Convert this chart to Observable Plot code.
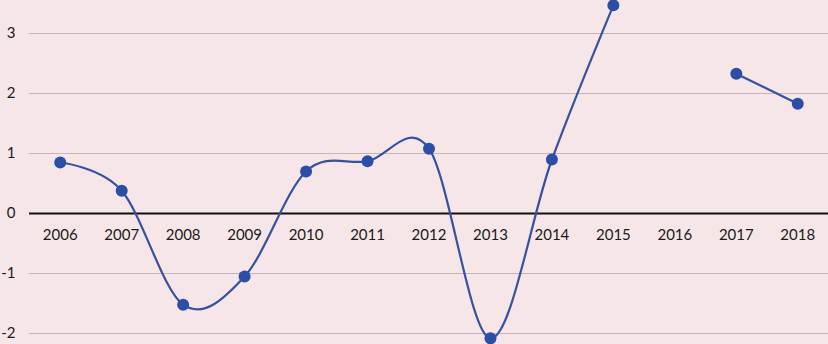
<!DOCTYPE html>
<html>
<head>
<meta charset="utf-8">
<script src="https://cdn.jsdelivr.net/npm/d3@7"></script>
<script src="https://cdn.jsdelivr.net/npm/@observablehq/plot@0.6"></script>
<style>
  html, body { margin: 0; padding: 0; background: #f6e6e7; }
  #chart svg { display: block; }
</style>
</head>
<body>
<div id="chart"></div>
<script>
const years = ["2006","2007","2008","2009","2010","2011","2012","2013","2014","2015","2016","2017","2018"];
const values = [0.85, 0.38, -1.52, -1.05, 0.70, 0.87, 1.08, -2.08, 0.90, 3.47, null, 2.33, 1.83];
const yTicks = [-2, -1, 0, 1, 2, 3];

const data = years.map((y, i) => ({year: y, value: values[i]}));
const points = data.filter(d => d.value != null);

const chart = Plot.plot({
  width: 828,
  height: 344,
  marginLeft: 29,
  marginRight: 0,
  marginTop: 0,
  marginBottom: 0,
  style: { background: "#f6e6e7", fontFamily: "Lato, 'Open Sans', sans-serif", fontSize: "15px", color: "#1a1a1a" },
  x: { type: "point", domain: years, padding: 0.5, round: false, axis: null },
  y: { domain: [-2.1833, 3.55], ticks: yTicks, tickSize: 0, tickPadding: 14, label: null, tickFormat: d => d < 0 ? "-" + Math.abs(d) : String(d) },
  marks: [
    Plot.ruleY(yTicks.filter(t => t !== 0), { stroke: "#c8b3b6", strokeWidth: 1 }),
    Plot.ruleY([0], { stroke: "#111", strokeWidth: 2 }),
    Plot.text(years, { x: d => d, y: () => 0, dy: 22, text: d => d, fill: "#1a1a1a", fontSize: 15 }),
    Plot.line(data, { x: "year", y: "value", curve: "cardinal", tension: 0, stroke: "#3452a0", strokeWidth: 2.2 }),
    Plot.dot(points, { x: "year", y: "value", r: 6, fill: "#2b4fa6", stroke: "none" })
  ]
});
document.getElementById("chart").appendChild(chart);
</script>
</body>
</html>
